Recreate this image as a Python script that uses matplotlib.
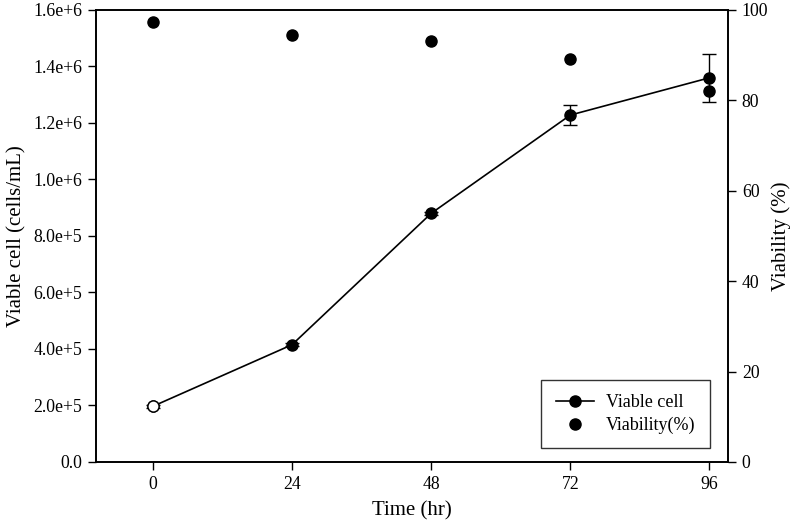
import matplotlib
matplotlib.use("Agg")
import matplotlib.pyplot as plt
from matplotlib.lines import Line2D

plt.rcParams['font.family'] = ['Liberation Serif', 'DejaVu Serif']

time_hr = [0, 24, 48, 72, 96]
viable_cell = [1.97e5, 4.15e5, 8.8e5, 1.228e6, 1.36e6]
viable_err = [6e3, 6e3, 6e3, 3.6e4, 8.4e4]
viability = [97.3, 94.4, 93.2, 89.2, 82.1]

x_ticks = [0, 24, 48, 72, 96]
left_ticks = [0, 2e5, 4e5, 6e5, 8e5, 1.0e6, 1.2e6, 1.4e6, 1.6e6]
left_labels = ['0.0', '2.0e+5', '4.0e+5', '6.0e+5', '8.0e+5', '1.0e+6', '1.2e+6', '1.4e+6', '1.6e+6']
right_ticks = [0, 20, 40, 60, 80, 100]

fig = plt.figure(figsize=(7.95, 5.29), dpi=100)
ax = fig.add_axes([0.1208, 0.1267, 0.7949, 0.8544])
ax2 = ax.twinx()

ax.errorbar(time_hr, viable_cell, yerr=viable_err, color='black', lw=1.2,
            marker='o', ms=8, mfc='black', mec='black', capsize=5, elinewidth=1.0,
            capthick=1.0, zorder=3)
# first point drawn as open circle
ax.plot(time_hr[:1], viable_cell[:1], 'o', ms=8, mfc='white', mec='black', mew=1.0, zorder=4)

ax2.plot(time_hr, viability, 'o', color='black', ms=8, linestyle='none')

ax.set_xlim(-9.8, 99.2)
ax.set_ylim(0, 1.6e6)
ax2.set_ylim(0, 100)

ax.set_xticks(x_ticks)
ax.set_xticklabels([str(t) for t in x_ticks])
ax.set_yticks(left_ticks)
ax.set_yticklabels(left_labels)
ax2.set_yticks(right_ticks)

for a in (ax, ax2):
    a.tick_params(direction='out', length=6, width=1, labelsize=12.8, pad=4)
    for s in a.spines.values():
        s.set_linewidth(1.2)

ax.set_xlabel('Time (hr)', fontsize=15, labelpad=6)
ax.set_ylabel('Viable cell (cells/mL)', fontsize=15, labelpad=5)
ax2.set_ylabel('Viability (%)', fontsize=15, rotation=90, va='center')
ax2.yaxis.set_label_coords(1.084, 0.5)

handles = [Line2D([0], [0], color='black', lw=1.2, marker='o', ms=8),
           Line2D([0], [0], color='black', lw=0, marker='o', ms=8)]
leg = ax2.legend(handles, ['Viable cell', 'Viability(%)'], loc='lower right',
                 bbox_to_anchor=(0.986, 0.01), fontsize=13, frameon=True, fancybox=False,
                 edgecolor='black', handlelength=2.1, handletextpad=0.7,
                 borderpad=0.8, labelspacing=0.3)
leg.get_frame().set_linewidth(1.0)

fig.savefig('out.png', dpi=100)
